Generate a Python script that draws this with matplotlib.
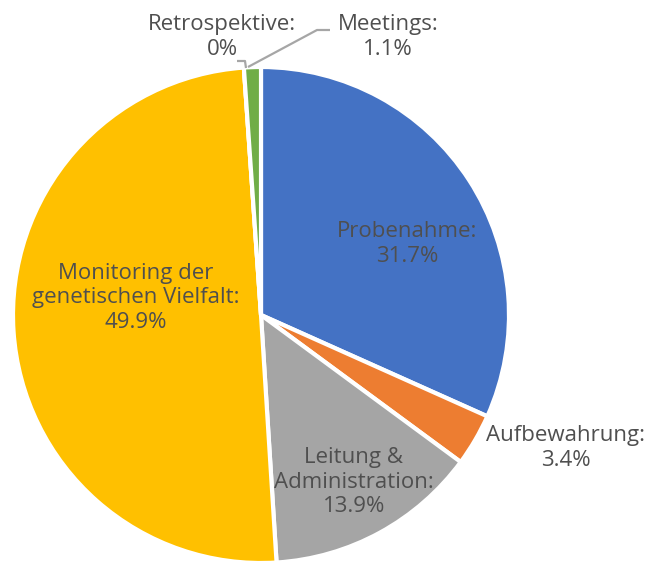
import matplotlib
matplotlib.use("Agg")
import matplotlib.pyplot as plt

categories = ["Probenahme", "Aufbewahrung", "Leitung &\nAdministration",
              "Monitoring der\ngenetischen Vielfalt", "Retrospektive", "Meetings"]
values = [31.7, 3.4, 13.9, 49.9, 0.0, 1.1]
value_labels = ["31.7%", "3.4%", "13.9%", "49.9%", "0%", "1.1%"]
colors = ["#4472C4", "#ED7D31", "#A5A5A5", "#FFC000", "#5B9BD5", "#70AD47"]

W, H = 650, 561
CX, CY, R = 261, 315, 248

fig = plt.figure(figsize=(W / 100, H / 100), dpi=100)
ax = fig.add_axes([(CX - R) / W, (H - CY - R) / H, 2 * R / W, 2 * R / H])

ax.pie(values, colors=colors, startangle=90, counterclock=False, radius=1,
       wedgeprops=dict(edgecolor="white", linewidth=3), normalize=True)
ax.set_xlim(-1, 1)
ax.set_ylim(-1, 1)
ax.set_aspect("equal")
ax.axis("off")
for p in ax.patches:
    p.set_clip_on(False)


def d(px, py):
    return (px - CX) / R, (CY - py) / R


# label anchor positions in pixels (layout only)
label_pos = [(407, 244), (566, 448), (354, 482), (136, 298), (222, 37), (388, 37)]
FONT = "Open Sans"
for cat, vl, (px, py) in zip(categories, value_labels, label_pos):
    x, y = d(px, py)
    ax.text(x, y, f"{cat}:\n{vl}", ha="center", va="center", fontsize=16,
            color="#4F4F4F", family=FONT, linespacing=1.25, clip_on=False)

line_kw = dict(color="#A6A6A6", lw=1.6, clip_on=False, solid_capstyle="butt")
# leader for Retrospektive
xs, ys = zip(*[d(237, 61), d(245, 61), d(246, 68)])
ax.plot(xs, ys, **line_kw)
# leader for Meetings
xs, ys = zip(*[d(248, 67), d(317, 30), d(330, 30)])
ax.plot(xs, ys, **line_kw)

fig.savefig("out.png", dpi=100, facecolor="white")
